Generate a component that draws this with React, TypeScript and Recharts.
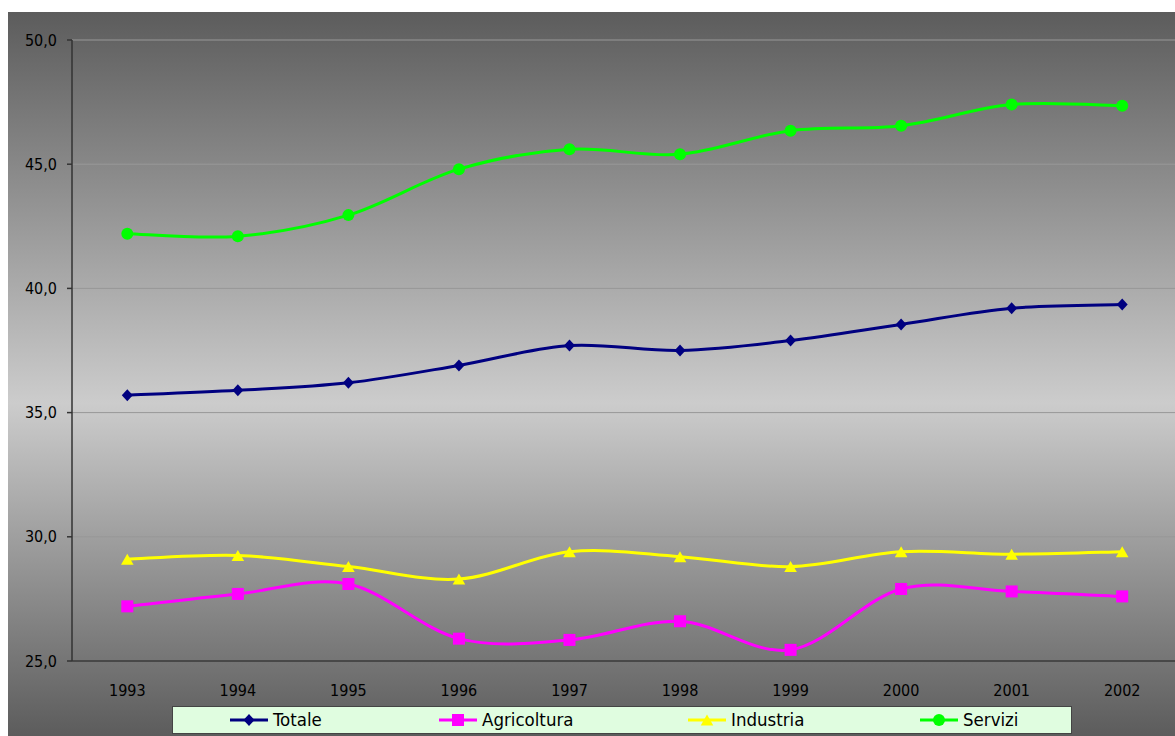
import React from 'react';
import { LineChart, Line, XAxis, YAxis, CartesianGrid, Legend } from 'recharts';

// Anni e valori per settore
const anni = ['1993', '1994', '1995', '1996', '1997', '1998', '1999', '2000', '2001', '2002'];
const totale = [35.7, 35.9, 36.2, 36.9, 37.7, 37.5, 37.9, 38.55, 39.2, 39.35];
const agricoltura = [27.2, 27.7, 28.1, 25.9, 25.85, 26.6, 25.45, 27.9, 27.8, 27.6];
const industria = [29.1, 29.25, 28.8, 28.3, 29.4, 29.2, 28.8, 29.4, 29.3, 29.4];
const servizi = [42.2, 42.1, 42.95, 44.8, 45.6, 45.4, 46.35, 46.55, 47.4, 47.35];
const yTicks = [25, 30, 35, 40, 45, 50];
const confini = [1, 2, 3, 4, 5, 6, 7, 8, 9];

const dati = anni.map((anno, i) => ({
    anno,
    totale: totale[i],
    agricoltura: agricoltura[i],
    industria: industria[i],
    servizi: servizi[i],
}));

type Forma = 'rombo' | 'quadrato' | 'triangolo' | 'cerchio';

const serie: { key: string; nome: string; colore: string; forma: Forma }[] = [
    { key: 'totale', nome: 'Totale', colore: '#000080', forma: 'rombo' },
    { key: 'agricoltura', nome: 'Agricoltura', colore: '#ff00ff', forma: 'quadrato' },
    { key: 'industria', nome: 'Industria', colore: '#ffff00', forma: 'triangolo' },
    { key: 'servizi', nome: 'Servizi', colore: '#00ff00', forma: 'cerchio' },
];

// posizione orizzontale delle voci dentro il riquadro della legenda
const posLegenda = [58, 267, 516, 748];

const FONT = "Tahoma, 'DejaVu Sans Condensed', 'DejaVu Sans', sans-serif";

// Curva levigata tipo Excel (Catmull-Rom -> Bezier)
const curvaLevigata = (context: any) => {
    let pts: number[][] = [];
    return {
        areaStart() {},
        areaEnd() {},
        lineStart() {
            pts = [];
        },
        point(x: number, y: number) {
            pts.push([+x, +y]);
        },
        lineEnd() {
            if (!pts.length) return;
            context.moveTo(pts[0][0], pts[0][1]);
            for (let i = 0; i < pts.length - 1; i++) {
                const p0 = pts[i - 1] || pts[i];
                const p1 = pts[i];
                const p2 = pts[i + 1];
                const p3 = pts[i + 2] || p2;
                context.bezierCurveTo(
                    p1[0] + (p2[0] - p0[0]) / 6, p1[1] + (p2[1] - p0[1]) / 6,
                    p2[0] - (p3[0] - p1[0]) / 6, p2[1] - (p3[1] - p1[1]) / 6,
                    p2[0], p2[1]
                );
            }
        },
    };
};

const Marcatore = ({ cx, cy, forma, colore }: { cx: number; cy: number; forma: Forma; colore: string }) => {
    if (forma === 'rombo') {
        return <polygon points={`${cx},${cy - 6} ${cx + 5.5},${cy} ${cx},${cy + 6} ${cx - 5.5},${cy}`} fill={colore} />;
    }
    if (forma === 'quadrato') {
        return <rect x={cx - 6} y={cy - 6} width={12} height={12} fill={colore} />;
    }
    if (forma === 'triangolo') {
        return <polygon points={`${cx},${cy - 5.5} ${cx + 6.3},${cy + 5.5} ${cx - 6.3},${cy + 5.5}`} fill={colore} />;
    }
    return <circle cx={cx} cy={cy} r={6} fill={colore} />;
};

const formatoY = (v: number) => v.toFixed(1).replace('.', ',');

const LegendaSettori = () => (
    <div
        style={{
            position: 'relative',
            boxSizing: 'border-box',
            height: 28,
            width: 900,
            background: '#e0fde0',
            border: '1px solid #444',
            fontFamily: FONT,
            fontStretch: 'condensed',
            fontSize: 18.5,
            color: '#000',
        }}
    >
        {serie.map((s, i) => (
            <div
                key={s.key}
                style={{ position: 'absolute', left: posLegenda[i] - 1, top: 0, height: 26, display: 'flex', alignItems: 'center' }}
            >
                <svg width={38} height={14} style={{ display: 'block' }}>
                    <line x1={0} y1={7} x2={38} y2={7} stroke={s.colore} strokeWidth={3} />
                    <Marcatore cx={19} cy={7} forma={s.forma} colore={s.colore} />
                </svg>
                <span style={{ marginLeft: 5, lineHeight: '26px' }}>{s.nome}</span>
            </div>
        ))}
    </div>
);

export default function App() {
    return (
        <div
            style={{
                position: 'fixed',
                left: 8,
                top: 12,
                width: 1167,
                height: 724,
                overflow: 'hidden',
                background: 'linear-gradient(to bottom, #5c5c5c 0%, #cccccc 54%, #5c5c5c 100%)',
            }}
        >
            <LineChart width={1172} height={724} data={dati} margin={{ top: 28, right: 2.5, left: 0, bottom: 2 }}>
                <CartesianGrid vertical={false} stroke="#989898" strokeWidth={1} />
                <XAxis
                    xAxisId="confini"
                    type="number"
                    domain={[0, 10]}
                    ticks={confini}
                    allowDataOverflow
                    height={0}
                    axisLine={false}
                    tick={false}
                    tickSize={5}
                    tickLine={{ stroke: '#333', strokeWidth: 1.5 }}
                />
                <XAxis
                    dataKey="anno"
                    height={45}
                    padding={{ left: 55.3, right: 55.3 }}
                    axisLine={{ stroke: '#333', strokeWidth: 1.5 }}
                    tickLine={false}
                    tickSize={0}
                    tickMargin={24}
                    tick={{ fill: '#000', fontSize: 16, fontFamily: FONT, fontStretch: 'condensed' }}
                />
                <YAxis
                    width={64}
                    domain={[25, 50]}
                    ticks={yTicks}
                    allowDataOverflow
                    tickFormatter={formatoY}
                    axisLine={{ stroke: '#333', strokeWidth: 1.5 }}
                    tickLine={{ stroke: '#333', strokeWidth: 1.5 }}
                    tickSize={5}
                    tickMargin={10}
                    tick={{ fill: '#000', fontSize: 16, fontFamily: FONT, fontStretch: 'condensed' }}
                />
                <Legend
                    verticalAlign="bottom"
                    wrapperStyle={{ left: 164, width: 900, bottom: 2 }}
                    content={() => <LegendaSettori />}
                />
                {serie.map(s => (
                    <Line
                        key={s.key}
                        dataKey={s.key}
                        name={s.nome}
                        type={curvaLevigata as any}
                        stroke={s.colore}
                        strokeWidth={3}
                        isAnimationActive={false}
                        activeDot={false}
                        dot={(p: any) => (
                            <Marcatore key={`${s.key}-${p.index}`} cx={p.cx} cy={p.cy} forma={s.forma} colore={s.colore} />
                        )}
                    />
                ))}
            </LineChart>
        </div>
    );
}
